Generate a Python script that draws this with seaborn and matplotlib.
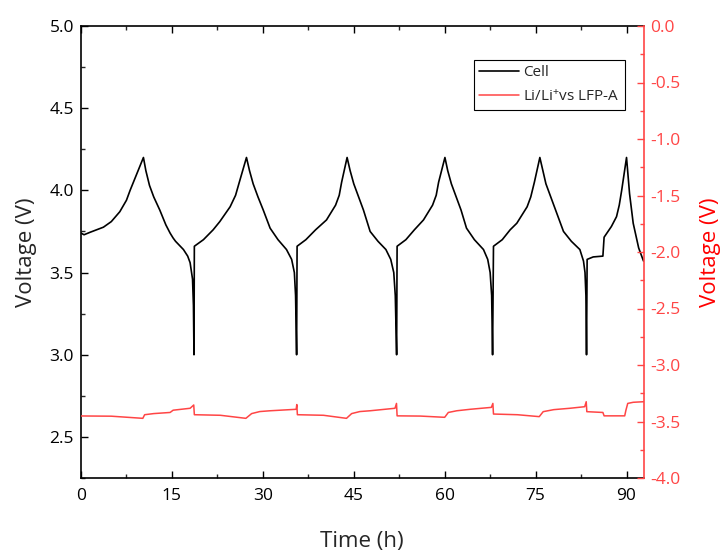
import matplotlib
matplotlib.use("Agg")
import matplotlib.pyplot as plt
import seaborn as sns
from matplotlib.ticker import MultipleLocator, FormatStrFormatter

# ---- data ----
cell_t = [0, 0.5, 1.5, 3.7, 5.0, 6.4, 7.5, 8.1, 9.2, 10.3,
          10.7, 11.3, 12.0, 13.0, 14.0, 14.7, 15.2, 15.6, 16.9, 17.6, 18.0, 18.4, 18.55, 18.64,
          18.7, 20.2, 21.8, 22.9, 24.6, 25.5, 26.2, 27.3,
          27.8, 28.4, 29.2, 30.07, 31.2, 32.5, 33.9, 34.75, 35.2, 35.4, 35.57,
          35.65, 37.1, 38.7, 40.5, 42.0, 42.6, 43.0, 43.9,
          44.4, 45.0, 45.8, 46.6, 47.7, 49.0, 50.3, 51.1, 51.6, 51.85, 52.07,
          52.15, 53.6, 55.0, 56.5, 58.0, 58.6, 59.0, 60.04,
          60.5, 61.1, 61.9, 62.7, 63.6, 64.9, 66.4, 67.1, 67.5, 67.75, 67.9,
          68.05, 69.5, 70.8, 71.9, 73.6, 74.2, 74.8, 75.7,
          76.2, 76.7, 77.5, 78.3, 79.6, 80.9, 82.3, 82.9, 83.15, 83.3, 83.4,
          83.5, 84.5, 86.1, 86.3,
          87.5, 88.35, 88.8, 89.2, 90.0,
          90.5, 91.1, 92.0, 92.8]
cell_v = [3.74, 3.73, 3.745, 3.776, 3.81, 3.87, 3.94, 4.0, 4.10, 4.2,
          4.12, 4.03, 3.96, 3.88, 3.79, 3.74, 3.71, 3.69, 3.64, 3.60, 3.56, 3.46, 3.3, 3.0,
          3.66, 3.70, 3.76, 3.81, 3.90, 3.97, 4.06, 4.2,
          4.12, 4.04, 3.96, 3.88, 3.77, 3.70, 3.64, 3.58, 3.50, 3.36, 3.0,
          3.66, 3.70, 3.76, 3.82, 3.91, 3.97, 4.05, 4.2,
          4.12, 4.04, 3.96, 3.88, 3.75, 3.69, 3.64, 3.58, 3.50, 3.36, 3.0,
          3.66, 3.70, 3.76, 3.82, 3.91, 3.97, 4.05, 4.2,
          4.12, 4.04, 3.96, 3.88, 3.77, 3.70, 3.64, 3.58, 3.50, 3.36, 3.0,
          3.66, 3.70, 3.76, 3.80, 3.90, 3.96, 4.05, 4.2,
          4.12, 4.04, 3.96, 3.88, 3.75, 3.69, 3.64, 3.57, 3.50, 3.36, 3.0,
          3.58, 3.595, 3.60, 3.715,
          3.78, 3.84, 3.91, 4.0, 4.2,
          3.98, 3.80, 3.65, 3.57]

lfp_t = [0, 5, 10.2, 10.5, 12, 14.7, 15.2, 18.0, 18.6, 18.7, 23, 27.2,
         28.15, 29.5, 31.2, 35.5, 35.6, 35.7, 40, 43.8, 44.65, 46, 47.7, 51.8,
         52.05, 52.15, 56, 60.0, 60.6, 62, 64.2, 67.7, 67.95, 68.05, 72, 75.6,
         76.25, 78, 80.65, 83.1, 83.35, 83.45, 86.1, 86.3, 89.7, 89.9, 90.2,
         91.1, 92.8]
lfp_v = [-3.451, -3.453, -3.472, -3.44, -3.43, -3.42, -3.40, -3.383, -3.354,
         -3.44, -3.445, -3.472, -3.43, -3.412, -3.405, -3.392, -3.35, -3.44,
         -3.445, -3.472, -3.43, -3.412, -3.405, -3.383, -3.34, -3.45, -3.452,
         -3.463, -3.42, -3.405, -3.392, -3.375, -3.34, -3.434, -3.44, -3.457,
         -3.413, -3.395, -3.383, -3.369, -3.325, -3.413, -3.42, -3.45, -3.45,
         -3.40, -3.34, -3.33, -3.325]

labels = ["Cell", "Li/Li$^{+}$vs LFP-A"]
x_ticks = [0, 15, 30, 45, 60, 75, 90]

# ---- style ----
sns.set_style("ticks")
plt.rcParams["font.family"] = ["Open Sans", "DejaVu Sans"]
plt.rcParams["mathtext.fontset"] = "custom"
plt.rcParams["mathtext.rm"] = "Open Sans"
plt.rcParams["mathtext.it"] = "Open Sans"
plt.rcParams["mathtext.default"] = "regular"
RED = "#ff4545"

fig = plt.figure(figsize=(7.21, 5.54), dpi=100)
ax = fig.add_axes([81/721, 1-478/554, (643.5-81)/721, (478-26)/554])
ax2 = ax.twinx()

sns.lineplot(x=cell_t, y=cell_v, ax=ax, sort=False, estimator=None,
             color="black", lw=1.2, label=labels[0], legend=False)
sns.lineplot(x=lfp_t, y=lfp_v, ax=ax2, sort=False, estimator=None,
             color=RED, lw=1.1, label=labels[1], legend=False)

ax.set_xlim(0, 92.8)
ax.set_ylim(2.25, 5.0)
ax2.set_ylim(-4.0, 0.0)

ax.set_xticks(x_ticks)
ax.xaxis.set_minor_locator(MultipleLocator(7.5))
ax.yaxis.set_major_locator(MultipleLocator(0.5))
ax.yaxis.set_minor_locator(MultipleLocator(0.25))
ax2.yaxis.set_major_locator(MultipleLocator(0.5))
ax2.yaxis.set_minor_locator(MultipleLocator(0.25))
ax.yaxis.set_major_formatter(FormatStrFormatter("%.1f"))
ax2.yaxis.set_major_formatter(FormatStrFormatter("%.1f"))

ax.tick_params(axis="both", which="major", direction="in", length=5, width=1,
               labelsize=12.5, top=True, right=False, colors="black")
ax.tick_params(axis="both", which="minor", direction="in", length=3, width=1,
               top=True, right=False)
ax.tick_params(axis="x", pad=7)
ax.tick_params(axis="y", pad=5)
ax2.tick_params(axis="y", which="major", direction="in", length=5, width=1,
                colors=RED, labelsize=12.5, labelcolor=RED, pad=5)
ax2.tick_params(axis="y", which="minor", direction="in", length=3, width=1,
                colors=RED)

for s in ["left", "bottom", "top"]:
    ax.spines[s].set_linewidth(1.2)
    ax.spines[s].set_color("black")
ax.spines["right"].set_visible(False)
for s in ["left", "bottom", "top"]:
    ax2.spines[s].set_visible(False)
ax2.spines["right"].set_color(RED)
ax2.spines["right"].set_linewidth(1.2)

ax.set_xlabel("Time (h)", fontsize=16, labelpad=20)
ax.set_ylabel("Voltage (V)", fontsize=16, labelpad=9)
ax2.set_ylabel("Voltage (V)", fontsize=16, color="red", labelpad=14)

h1, l1 = ax.get_legend_handles_labels()
h2, l2 = ax2.get_legend_handles_labels()
leg = ax2.legend(h1 + h2, l1 + l2, loc="upper right",
                 bbox_to_anchor=(0.967, 0.925), borderaxespad=0,
                 fontsize=11, frameon=True,
                 fancybox=False, edgecolor="black", framealpha=1,
                 handlelength=2.6, handletextpad=0.3, borderpad=0.35,
                 labelspacing=0.55)
leg.get_frame().set_linewidth(0.8)

fig.savefig("out.png", dpi=100)
